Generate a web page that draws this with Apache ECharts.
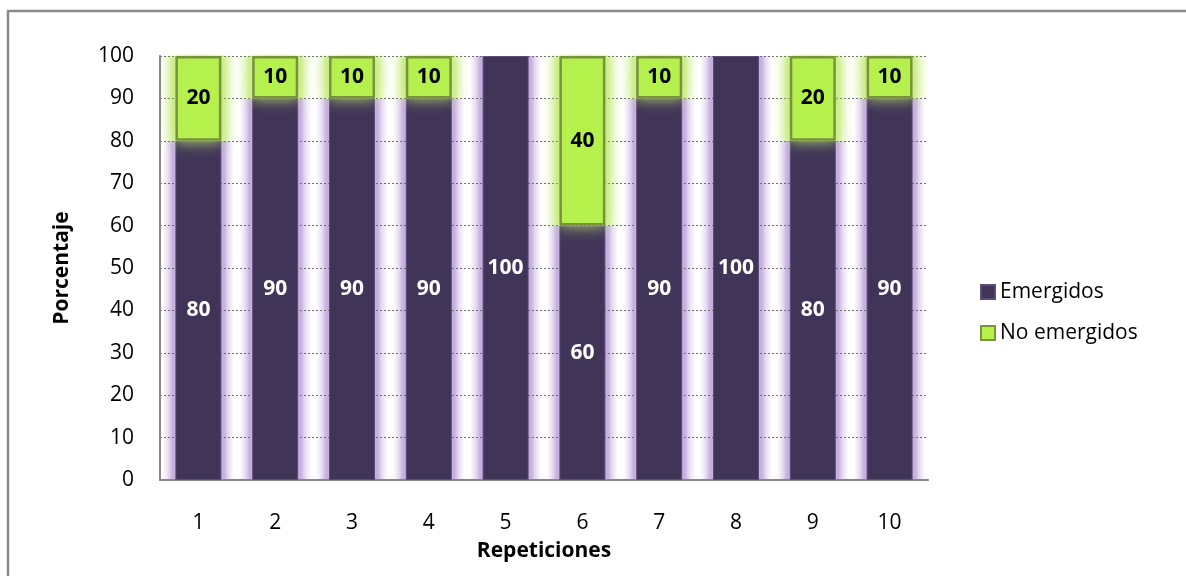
<!DOCTYPE html>
<html>
<head>
<meta charset="utf-8">
<script src="https://cdn.jsdelivr.net/npm/echarts@6/dist/echarts.min.js"></script>
<style>
  html, body { margin: 0; padding: 0; background: #fff; }
  #chart { width: 1186px; height: 576px; }
</style>
</head>
<body>
<div id="chart"></div>
<script>
// Emergence per repetition (percent)
const categories = ['1', '2', '3', '4', '5', '6', '7', '8', '9', '10'];
const emergidos = [80, 90, 90, 90, 100, 60, 90, 100, 80, 90];
const noEmergidos = [20, 10, 10, 10, 0, 40, 10, 0, 20, 10];
const seriesNames = ['Emergidos', 'No emergidos'];

const FONT = '"Open Sans", "Noto Sans", sans-serif';
const PURPLE = '#403558';
const GREEN = '#B5F24B';

// zero-height segments are left out so they draw no outline
const asBars = arr => arr.map(v => (v === 0 ? '-' : v));

// soft halo behind each segment: colour at the bar edge fading to white between bars
const halo = (edge, soft, mid) => ({
  type: 'linear', x: 0, y: 0, x2: 1, y2: 0,
  colorStops: [
    { offset: 0, color: mid },
    { offset: 0.035, color: mid },
    { offset: 0.11, color: soft },
    { offset: 0.165, color: edge },
    { offset: 0.5, color: edge },
    { offset: 0.835, color: edge },
    { offset: 0.89, color: soft },
    { offset: 0.965, color: mid },
    { offset: 1, color: mid }
  ]
});

const chart = echarts.init(document.getElementById('chart'), null, { renderer: 'canvas' });

chart.setOption({
  animation: false,
  backgroundColor: '#ffffff',
  textStyle: { fontFamily: FONT },
  grid: { left: 160, right: 258, top: 56, bottom: 96, containLabel: false },
  legend: {
    orient: 'vertical',
    left: 975,
    top: 276,
    itemWidth: 14,
    itemHeight: 14,
    itemGap: 19,
    icon: 'rect',
    textStyle: { fontFamily: FONT, fontSize: 21, lineHeight: 22, color: '#000' },
    itemStyle: { shadowBlur: 0, shadowColor: 'transparent' },
    data: seriesNames
  },
  xAxis: [
    {
      type: 'category',
      data: categories,
      z: 1.5,
      name: 'Repeticiones',
      nameLocation: 'middle',
      nameGap: 61,
      nameTextStyle: { fontFamily: FONT, fontSize: 21, fontWeight: 'bold', color: '#000' },
      axisLine: { lineStyle: { color: '#878787', width: 2 } },
      axisTick: { show: false },
      axisLabel: { margin: 33, fontSize: 21, color: '#000', fontFamily: FONT },
      splitLine: { show: false }
    },
    {
      type: 'category',
      data: categories,
      show: false
    }
  ],
  yAxis: {
    type: 'value',
    min: 0,
    max: 100,
    interval: 10,
    z: 1.5,
    name: 'Porcentaje',
    nameLocation: 'middle',
    nameGap: 87,
    nameRotate: 90,
    nameTextStyle: { fontFamily: FONT, fontSize: 21, fontWeight: 'bold', color: '#000' },
    axisLine: { show: true, lineStyle: { color: '#878787', width: 2 } },
    axisTick: { show: false },
    axisLabel: { margin: 26, fontSize: 21, color: '#000', fontFamily: FONT },
    splitLine: { show: true, lineStyle: { color: '#6e6e6e', type: [2, 2], width: 1 } }
  },
  series: [
    // halos, on their own hidden category axis so they span the full band
    {
      name: 'halo-' + seriesNames[0],
      type: 'bar',
      xAxisIndex: 1,
      stack: 'halo',
      barWidth: '100%',
      z: 1,
      silent: true,
      data: asBars(emergidos),
      itemStyle: { color: halo('#c6b0e0', '#e6dcf2', '#ffffff') }
    },
    {
      name: 'halo-' + seriesNames[1],
      type: 'bar',
      xAxisIndex: 1,
      stack: 'halo',
      barWidth: '100%',
      z: 1,
      silent: true,
      data: asBars(noEmergidos),
      itemStyle: { color: halo('#d3f29c', '#ebf8d2', '#fbfef4') }
    },
    {
      name: seriesNames[0],
      type: 'bar',
      stack: 'total',
      barWidth: 46,
      z: 2,
      data: asBars(emergidos),
      itemStyle: {
        color: PURPLE,
        borderColor: '#5b4d78',
        borderWidth: 1
      },
      label: {
        show: true,
        position: 'inside',
        color: '#fff',
        fontSize: 21,
        fontWeight: 'bold',
        fontFamily: FONT
      }
    },
    {
      name: seriesNames[1],
      type: 'bar',
      stack: 'total',
      barWidth: 46,
      z: 2,
      data: asBars(noEmergidos),
      itemStyle: {
        color: GREEN,
        borderColor: '#77933c',
        borderWidth: 2.5,
        shadowBlur: 14,
        shadowColor: 'rgba(190, 232, 110, 0.9)'
      },
      label: {
        show: true,
        position: 'inside',
        color: '#000',
        fontSize: 21,
        fontWeight: 'bold',
        fontFamily: FONT
      }
    }
  ],
  graphic: [
    // outer chart frame
    {
      type: 'rect',
      z: 0,
      shape: { x: 8, y: 11, width: 1400, height: 800 },
      style: { fill: 'none', stroke: '#8a8a8a', lineWidth: 2.5 },
      silent: true
    },
    // keep the glow of the bars inside the plot area
    {
      type: 'rect',
      z: 100,
      shape: { x: 140, y: 20, width: 810, height: 34.5 },
      style: { fill: '#fff' },
      silent: true
    }
  ]
});
</script>
</body>
</html>
